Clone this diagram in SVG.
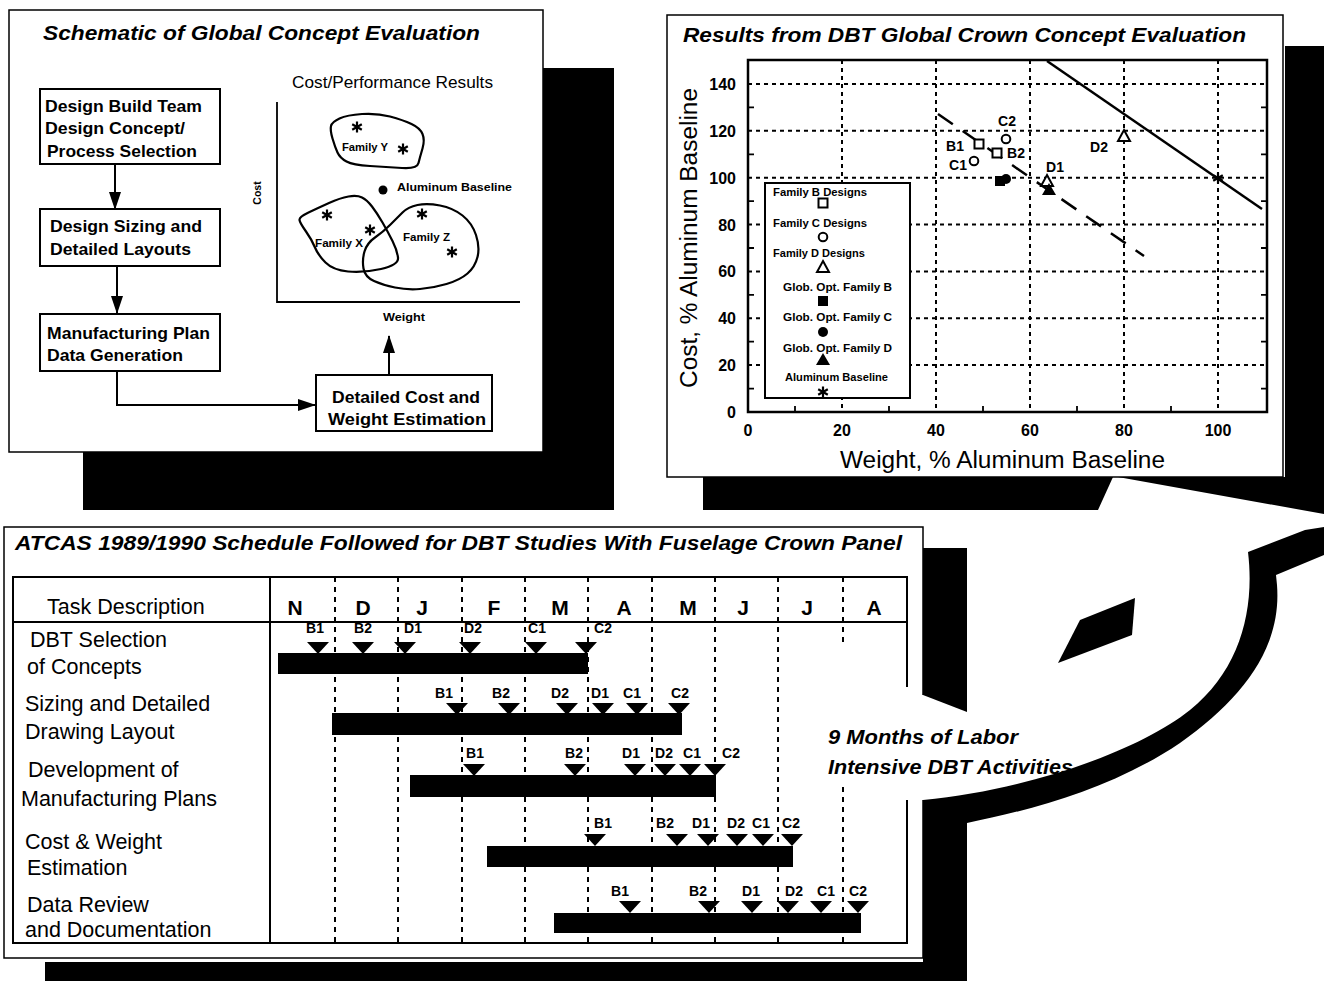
<svg xmlns="http://www.w3.org/2000/svg" width="1324" height="981" viewBox="0 0 1324 981">
<defs>
<style>
text { font-family: "Liberation Sans", Arial, Helvetica, sans-serif; fill: #000; }
.ti { font-weight: bold; font-style: italic; }
.bx { font-weight: bold; font-size: 17px; }
.sm { font-weight: bold; font-size: 11.5px; }
.tk { font-weight: bold; font-size: 16px; }
.lg { font-size: 11px; font-weight: bold; }
.dl { font-weight: bold; font-size: 14px; text-anchor: middle; }
.gl { font-weight: bold; font-size: 14px; text-anchor: middle; }
.task { font-size: 21.5px; }
.mon { font-size: 21px; font-weight: bold; text-anchor: middle; }
.shadow { fill: #000; stroke: none; }
.panel { fill: #fff; stroke: #000; stroke-width: 1.5; }
.box { fill: #fff; stroke: #000; stroke-width: 2; }
.conn { fill: none; stroke: #000; stroke-width: 2; }
.axis { fill: none; stroke: #000; stroke-width: 1.8; }
.frame { fill: none; stroke: #000; stroke-width: 2.5; }
.grid { fill: none; stroke: #000; stroke-width: 2; stroke-dasharray: 4 4; }
.mgrid { fill: none; stroke: #000; stroke-width: 2; stroke-dasharray: 5 5; }
.tline { fill: none; stroke: #000; stroke-width: 1.8; }
.blob { fill: none; stroke: #000; stroke-width: 2.2; }
.open { fill: #fff; stroke: #000; stroke-width: 2; }
.bar { fill: #000; }
</style>
<marker id="ah" markerUnits="userSpaceOnUse" markerWidth="18" markerHeight="12" refX="17" refY="6" orient="auto">
<path d="M0,0 L18,6 L0,12 Z" fill="#000"/>
</marker>
<g id="ast"><path d="M0,-5.5V5.5M-4.8,-2.75L4.8,2.75M-4.8,2.75L4.8,-2.75" stroke="#000" stroke-width="2.2" fill="none"/></g>
<path id="tri" d="M-11,0H11L0,12Z" fill="#000"/>
</defs>

<!-- shadows and callout band -->
<g id="shadows">
<rect class="shadow" x="83" y="68" width="531" height="442"/>
<polygon class="shadow" points="703,477 1113,477 1098,510 703,510"/>
<polygon class="shadow" points="1285,46 1324,46 1324,514 1118,477 1285,477"/>
<polygon class="shadow" points="923,548 967,548 967,712 923,695"/>
<rect class="shadow" x="45" y="962" width="922" height="19"/>
<path class="shadow" d="M1248,552 L1305,530 L1324,527 L1324,555 L1276,575 L1277,585 C1282,650 1240,700 1180,743 C1110,790 1030,810 967,823 L967,981 L923,981 L923,800 C1030,790 1140,750 1190,710 C1240,670 1255,610 1248,552 Z"/>
<polygon class="shadow" points="1080,620 1135,598 1132,635 1058,663"/>
</g>

<!-- Panel 1: schematic -->
<g id="panel-schematic">
<rect class="panel" x="9" y="10" width="534" height="442"/>
<text class="ti" x="43" y="40" font-size="21" textLength="437" lengthAdjust="spacingAndGlyphs">Schematic of Global Concept Evaluation</text>
</g>

<g id="box-design-build-team">
<rect class="box" x="40" y="89" width="180" height="75"/>
<text class="bx" x="45" y="112" textLength="157" lengthAdjust="spacingAndGlyphs">Design Build Team</text>
<text class="bx" x="45" y="134" textLength="140" lengthAdjust="spacingAndGlyphs">Design Concept/</text>
<text class="bx" x="47" y="157" textLength="150" lengthAdjust="spacingAndGlyphs">Process Selection</text>
</g>
<g id="box-design-sizing">
<rect class="box" x="40" y="209" width="180" height="57"/>
<text class="bx" x="50" y="232" textLength="152" lengthAdjust="spacingAndGlyphs">Design Sizing and</text>
<text class="bx" x="50" y="255" textLength="141" lengthAdjust="spacingAndGlyphs">Detailed Layouts</text>
</g>
<g id="box-manufacturing-plan">
<rect class="box" x="40" y="314" width="180" height="57"/>
<text class="bx" x="47" y="339" textLength="163" lengthAdjust="spacingAndGlyphs">Manufacturing Plan</text>
<text class="bx" x="47" y="361" textLength="136" lengthAdjust="spacingAndGlyphs">Data Generation</text>
</g>
<g id="box-cost-weight-estimation">
<rect class="box" x="316" y="375" width="176" height="56"/>
<text class="bx" x="332" y="403" textLength="148" lengthAdjust="spacingAndGlyphs">Detailed Cost and</text>
<text class="bx" x="328" y="425" textLength="158" lengthAdjust="spacingAndGlyphs">Weight Estimation</text>
</g>

<g id="cost-performance-plot">
<text x="292" y="88" font-size="17" textLength="201" lengthAdjust="spacingAndGlyphs">Cost/Performance Results</text>
<path class="axis" d="M277,102 V302 H520"/>
<text transform="translate(261,193) rotate(-90)" font-size="10.5" font-weight="bold" text-anchor="middle">Cost</text>
<text class="sm" x="383" y="321" textLength="42" lengthAdjust="spacingAndGlyphs">Weight</text>
<path class="blob" d="M331,126 Q332,122 339.5,118.5 Q347,115 362,114 Q377,113 390,116.5 Q403,120 411.5,124 Q420,128 422.5,134 Q425,140 422.5,148.5 Q420,157 418.5,163 Q417,169 402,168 Q387,167 370,166 Q353,165 346.5,161.5 Q340,158 337.5,152.5 Q335,147 332.5,138.5 Q330,130 331,126 Z"/>
<path class="blob" d="M299.5,220 Q299,217 308.5,212.5 Q318,208 329,203 Q340,198 348.5,196.5 Q357,195 362,197.5 Q367,200 372,206.5 Q377,213 382.5,222.5 Q388,232 392.5,241 Q397,250 398,257.5 Q399,265 381,269 Q363,273 348,271.5 Q333,270 325.5,262.5 Q318,255 315,247.5 Q312,240 306,231.5 Q300,223 299.5,220 Z"/>
<path class="blob" d="M363.5,268.5 Q362,260 364.5,251.5 Q367,243 375,237.5 Q383,232 390,225 Q397,218 402.5,212.5 Q408,207 417.5,205 Q427,203 440,205.5 Q453,208 462.5,215.5 Q472,223 476,235 Q480,247 477.5,257 Q475,267 467.5,273.5 Q460,280 446.5,284 Q433,288 420,289 Q407,290 395,287.5 Q383,285 374,281 Q365,277 363.5,268.5 Z"/>
<use href="#ast" x="357" y="127"/>
<use href="#ast" x="403" y="149"/>
<use href="#ast" x="327" y="215"/>
<use href="#ast" x="370" y="230"/>
<use href="#ast" x="422" y="214"/>
<use href="#ast" x="452" y="252"/>
<text class="sm" x="342" y="151" textLength="46" lengthAdjust="spacingAndGlyphs">Family Y</text>
<text class="sm" x="315" y="247" textLength="48" lengthAdjust="spacingAndGlyphs">Family X</text>
<text class="sm" x="403" y="241" textLength="47" lengthAdjust="spacingAndGlyphs">Family Z</text>
<circle cx="383" cy="190" r="4.5" fill="#000"/>
<text class="sm" x="397" y="191" textLength="115" lengthAdjust="spacingAndGlyphs">Aluminum Baseline</text>
</g>

<!-- Panel 2: results chart -->
<g id="panel-results">
<rect class="panel" x="667" y="15" width="616" height="462"/>
<text class="ti" x="683" y="42" font-size="20" textLength="563" lengthAdjust="spacingAndGlyphs">Results from DBT Global Crown Concept Evaluation</text>
<path class="grid" d="M748,365.1H1267M748,318.3H1267M748,271.4H1267M748,224.6H1267M748,177.7H1267M748,130.8H1267M748,84H1267"/>
<path class="grid" d="M842,60V412M936,60V412M1030,60V412M1124,60V412M1218,60V412"/>
<path class="tline" d="M748,388.6h6M748,341.7h6M748,294.9h6M748,248h6M748,201.1h6M748,154.3h6M748,107.4h6M1267,388.6h-6M1267,341.7h-6M1267,294.9h-6M1267,248h-6M1267,201.1h-6M1267,154.3h-6M1267,107.4h-6M795,412v-6M889,412v-6M983,412v-6M1077,412v-6M1171,412v-6"/>
<rect class="frame" x="748" y="60" width="519" height="352"/>
<g class="tk" text-anchor="end">
<text x="736" y="90">140</text>
<text x="736" y="137">120</text>
<text x="736" y="184">100</text>
<text x="736" y="231">80</text>
<text x="736" y="277">60</text>
<text x="736" y="324">40</text>
<text x="736" y="371">20</text>
<text x="736" y="418">0</text>
</g>
<g class="tk" text-anchor="middle">
<text x="748" y="436">0</text>
<text x="842" y="436">20</text>
<text x="936" y="436">40</text>
<text x="1030" y="436">60</text>
<text x="1124" y="436">80</text>
<text x="1218" y="436">100</text>
</g>
<text x="840" y="468" font-size="23" textLength="325" lengthAdjust="spacingAndGlyphs">Weight, % Aluminum Baseline</text>
<text transform="translate(697,238) rotate(-90)" font-size="23" text-anchor="middle" textLength="300" lengthAdjust="spacingAndGlyphs">Cost, % Aluminum Baseline</text>
<line x1="1047" y1="61" x2="1262" y2="209" stroke="#000" stroke-width="2.5"/>
<line x1="938" y1="114" x2="1144" y2="256" stroke="#000" stroke-width="2.5" stroke-dasharray="18 12"/>
<rect class="open" x="974.5" y="139.5" width="9" height="9"/>
<rect class="open" x="992.5" y="148.5" width="9" height="9"/>
<circle class="open" cx="1006" cy="139" r="4.3"/>
<circle class="open" cx="974" cy="161" r="4.3"/>
<rect x="995" y="176" width="10" height="10" fill="#000"/>
<circle cx="1006" cy="179" r="5" fill="#000"/>
<polygon class="open" points="1047,175 1053,186 1041,186"/>
<polygon points="1049,183 1056,195 1042,195" fill="#000"/>
<polygon class="open" points="1124,130 1130,141 1118,141"/>
<use href="#ast" x="1218" y="178"/>
<text class="dl" x="955" y="151">B1</text>
<text class="dl" x="1016" y="158">B2</text>
<text class="dl" x="1007" y="126">C2</text>
<text class="dl" x="958" y="170">C1</text>
<text class="dl" x="1055" y="172">D1</text>
<text class="dl" x="1099" y="152">D2</text>
</g>

<g id="legend">
<rect x="765" y="183" width="145" height="215" fill="#fff" stroke="#000" stroke-width="2"/>
<text class="lg" x="773" y="196" textLength="94" lengthAdjust="spacingAndGlyphs">Family B Designs</text>
<rect class="open" x="818.5" y="198.5" width="9" height="9"/>
<text class="lg" x="773" y="227" textLength="94" lengthAdjust="spacingAndGlyphs">Family C Designs</text>
<circle class="open" cx="823" cy="237" r="4.3"/>
<text class="lg" x="773" y="257" textLength="92" lengthAdjust="spacingAndGlyphs">Family D Designs</text>
<polygon class="open" points="823,261 829,272 817,272"/>
<text class="lg" x="783" y="291" textLength="109" lengthAdjust="spacingAndGlyphs">Glob. Opt. Family B</text>
<rect x="818" y="296" width="10" height="10" fill="#000"/>
<text class="lg" x="783" y="321" textLength="109" lengthAdjust="spacingAndGlyphs">Glob. Opt. Family C</text>
<circle cx="823" cy="332" r="5" fill="#000"/>
<text class="lg" x="783" y="352" textLength="109" lengthAdjust="spacingAndGlyphs">Glob. Opt. Family D</text>
<polygon points="823,353 830,365 816,365" fill="#000"/>
<text class="lg" x="785" y="381" textLength="103" lengthAdjust="spacingAndGlyphs">Aluminum Baseline</text>
<use href="#ast" x="823" y="392"/>
</g>

<!-- Panel 3: schedule -->
<g id="panel-schedule">
<rect x="4" y="527" width="919" height="431" fill="#fff"/>
<path d="M923,695 V527 H4 V958 H923 V800" fill="none" stroke="#000" stroke-width="1.5"/>
<text class="ti" x="15" y="550" font-size="20" textLength="887" lengthAdjust="spacingAndGlyphs">ATCAS 1989/1990 Schedule Followed for DBT Studies With Fuselage Crown Panel</text>
<path d="M907,687 V577 H13 V943 H907 V800 M13,622 H907 M270,577 V943" fill="none" stroke="#000" stroke-width="2"/>
<path class="mgrid" d="M335,577V943M398,577V943M462,577V943M525,577V943M588,577V943M652,577V943M715,577V943M778,577V943M843,577V645M843,787V943"/>
<text class="task" x="47" y="614">Task Description</text>
<g>
<text class="mon" x="295" y="615">N</text>
<text class="mon" x="363" y="615">D</text>
<text class="mon" x="422" y="615">J</text>
<text class="mon" x="494" y="615">F</text>
<text class="mon" x="560" y="615">M</text>
<text class="mon" x="624" y="615">A</text>
<text class="mon" x="688" y="615">M</text>
<text class="mon" x="743" y="615">J</text>
<text class="mon" x="807" y="615">J</text>
<text class="mon" x="874" y="615">A</text>
</g>
</g>

<g id="task-dbt-selection">
<text class="task" x="30" y="647">DBT Selection</text>
<text class="task" x="27" y="674">of Concepts</text>
<rect class="bar" x="278" y="653" width="310" height="21"/>
<use href="#tri" x="318" y="642"/><use href="#tri" x="363" y="642"/><use href="#tri" x="405" y="642"/><use href="#tri" x="470" y="642"/><use href="#tri" x="536" y="642"/><use href="#tri" x="586" y="642"/>
<text class="gl" x="315" y="633">B1</text><text class="gl" x="363" y="633">B2</text><text class="gl" x="413" y="633">D1</text><text class="gl" x="473" y="633">D2</text><text class="gl" x="537" y="633">C1</text><text class="gl" x="603" y="633">C2</text>
</g>
<g id="task-sizing">
<text class="task" x="25" y="711">Sizing and Detailed</text>
<text class="task" x="25" y="739">Drawing Layout</text>
<rect class="bar" x="332" y="713" width="350" height="22"/>
<use href="#tri" x="457" y="703"/><use href="#tri" x="509" y="703"/><use href="#tri" x="567" y="703"/><use href="#tri" x="603" y="703"/><use href="#tri" x="637" y="703"/><use href="#tri" x="679" y="703"/>
<text class="gl" x="444" y="698">B1</text><text class="gl" x="501" y="698">B2</text><text class="gl" x="560" y="698">D2</text><text class="gl" x="600" y="698">D1</text><text class="gl" x="632" y="698">C1</text><text class="gl" x="680" y="698">C2</text>
</g>
<g id="task-manufacturing">
<text class="task" x="28" y="777">Development of</text>
<text class="task" x="21" y="806">Manufacturing Plans</text>
<rect class="bar" x="410" y="775" width="306" height="22"/>
<use href="#tri" x="474" y="764"/><use href="#tri" x="575" y="764"/><use href="#tri" x="635" y="764"/><use href="#tri" x="665" y="764"/><use href="#tri" x="690" y="764"/><use href="#tri" x="715" y="764"/>
<text class="gl" x="475" y="758">B1</text><text class="gl" x="574" y="758">B2</text><text class="gl" x="631" y="758">D1</text><text class="gl" x="664" y="758">D2</text><text class="gl" x="692" y="758">C1</text><text class="gl" x="731" y="758">C2</text>
</g>
<g id="task-cost-weight">
<text class="task" x="25" y="849">Cost &amp; Weight</text>
<text class="task" x="27" y="875">Estimation</text>
<rect class="bar" x="487" y="846" width="306" height="21"/>
<use href="#tri" x="595" y="834"/><use href="#tri" x="677" y="834"/><use href="#tri" x="708" y="834"/><use href="#tri" x="737" y="834"/><use href="#tri" x="763" y="834"/><use href="#tri" x="792" y="834"/>
<text class="gl" x="603" y="828">B1</text><text class="gl" x="665" y="828">B2</text><text class="gl" x="701" y="828">D1</text><text class="gl" x="736" y="828">D2</text><text class="gl" x="761" y="828">C1</text><text class="gl" x="791" y="828">C2</text>
</g>
<g id="task-data-review">
<text class="task" x="27" y="912">Data Review</text>
<text class="task" x="25" y="937">and Documentation</text>
<rect class="bar" x="554" y="913" width="307" height="20"/>
<use href="#tri" x="630" y="901"/><use href="#tri" x="709" y="901"/><use href="#tri" x="752" y="901"/><use href="#tri" x="788" y="901"/><use href="#tri" x="821" y="901"/><use href="#tri" x="858" y="901"/>
<text class="gl" x="620" y="896">B1</text><text class="gl" x="698" y="896">B2</text><text class="gl" x="751" y="896">D1</text><text class="gl" x="794" y="896">D2</text><text class="gl" x="826" y="896">C1</text><text class="gl" x="858" y="896">C2</text>
</g>

<g id="callout-label">
<text class="ti" x="828" y="744" font-size="21" textLength="190" lengthAdjust="spacingAndGlyphs">9 Months of Labor</text>
<text class="ti" x="828" y="774" font-size="21" textLength="245" lengthAdjust="spacingAndGlyphs">Intensive DBT Activities</text>
</g>

<g id="connectors">
<line class="conn" x1="115" y1="164" x2="115" y2="209" marker-end="url(#ah)"/>
<line class="conn" x1="117" y1="266" x2="117" y2="313" marker-end="url(#ah)"/>
<polyline class="conn" points="117,371 117,405 315,405" marker-end="url(#ah)"/>
<line class="conn" x1="389" y1="375" x2="389" y2="336" marker-end="url(#ah)"/>
</g>
</svg>
